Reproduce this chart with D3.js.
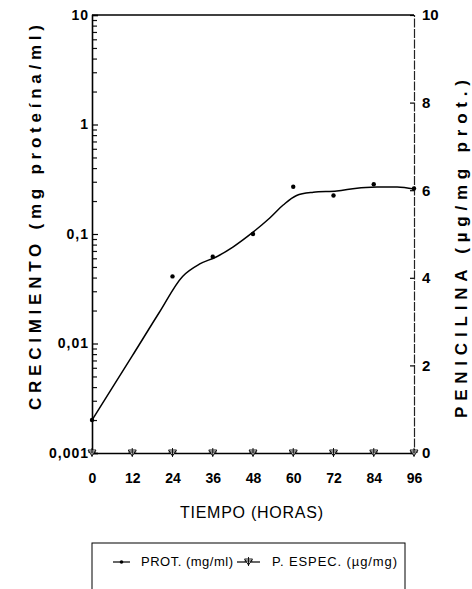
<!DOCTYPE html>
<html><head><meta charset="utf-8">
<script src="https://cdn.jsdelivr.net/npm/d3@7"></script>
<style>
body{margin:0;background:#fff;}
svg{display:block;font-family:"Liberation Sans",Arial,Helvetica,sans-serif;}
</style></head>
<body>
<svg id="chart" width="472" height="589"></svg>
<script>
// ---- data ----
const hours = [0,12,24,36,48,60,72,84,96];
const protHours = [0,24,36,48,60,72,84,96];
const protValues = [0.002,0.041,0.062,0.1,0.27,0.225,0.285,0.26];
const fitHours = [0,12,20,27,32,37,42,48,53,57,61,66,73,79,85,91,96];
const fitValues = [0.002,0.0077,0.0191,0.041,0.053,0.0617,0.076,0.104,0.14,0.184,0.225,0.241,0.247,0.262,0.268,0.268,0.258];
const penValues = [0,0,0,0,0,0,0,0,0];
const leftTicks = [0.001,0.01,0.1,1,10];
const leftTickLabels = ["0,001","0,01","0,1","1","10"];
const rightTicks = [0,2,4,6,8,10];
const xTicks = [0,12,24,36,48,60,72,84,96];

const svg = d3.select("#chart");
const x = d3.scaleLinear().domain([0,96]).range([92,414]);
const yL = d3.scaleLog().domain([0.001,10]).range([453,15]);
const yR = d3.scaleLinear().domain([0,10]).range([453,15]);

// minor log ticks
const minor = [];
[0.001,0.01,0.1,1].forEach(d=>{for(let k=2;k<=9;k++) minor.push(d*k);});

// left axis (minor)
svg.append("g").attr("transform","translate(92,0)")
  .call(d3.axisLeft(yL).tickValues(minor).tickSize(-5).tickFormat(""))
  .call(g=>g.select(".domain").remove())
  .call(g=>g.selectAll("line").attr("stroke","#111").attr("stroke-width",1.2));
// left axis (major)
svg.append("g").attr("transform","translate(92,0)")
  .call(d3.axisLeft(yL).tickValues(leftTicks).tickSize(-6).tickPadding(3)
    .tickFormat((d,i)=>leftTickLabels[i]))
  .call(g=>g.select(".domain").attr("stroke","#000").attr("stroke-width",1.6))
  .call(g=>g.selectAll("line").attr("stroke","#000").attr("stroke-width",1.2))
  .call(g=>g.selectAll("text").attr("font-size",14).attr("font-weight","bold")
     .attr("fill","#000").attr("letter-spacing","1px").attr("font-family","Liberation Sans, Arial, sans-serif"));

// right axis
svg.append("g").attr("transform","translate(414,0)")
  .call(d3.axisRight(yR).tickValues(rightTicks).tickSize(-4).tickPadding(8))
  .call(g=>g.select(".domain").attr("stroke","#222").attr("stroke-width",1.2).attr("stroke-dasharray","9,1.5"))
  .call(g=>g.selectAll("line").attr("stroke","#000").attr("stroke-width",1.2))
  .call(g=>g.selectAll("text").attr("font-size",15).attr("font-weight","bold")
     .attr("fill","#000").attr("font-family","Liberation Sans, Arial, sans-serif"));

// top frame
svg.append("line").attr("x1",x(0)).attr("x2",x(96)).attr("y1",yL(10)).attr("y2",yL(10))
  .attr("stroke","#000").attr("stroke-width",1.3);

// bottom axis
svg.append("g").attr("transform","translate(0,453)")
  .call(d3.axisBottom(x).tickValues(xTicks).tickSize(0).tickPadding(20))
  .call(g=>g.select(".domain").attr("stroke","#000").attr("stroke-width",1.6))
  .call(g=>g.selectAll("text").attr("font-size",14).attr("font-weight","bold")
     .attr("fill","#000").attr("font-family","Liberation Sans, Arial, sans-serif"));

// protein fitted curve
const line = d3.line().x((d,i)=>x(fitHours[i])).y(d=>yL(d)).curve(d3.curveCatmullRom.alpha(0.5));
svg.append("path").datum(fitValues).attr("d",line)
  .attr("fill","none").attr("stroke","#000").attr("stroke-width",1.5);

// protein points
svg.selectAll("circle.prot").data(protValues).join("circle").attr("class","prot")
  .attr("cx",(d,i)=>x(protHours[i])).attr("cy",d=>yL(d)).attr("r",2.2).attr("fill","#000");

// penicillin markers
function penMarker(g){
  g.append("path").attr("d","M-4,-3L4,-3L0,3Z").attr("fill","#fff").attr("stroke","#000").attr("stroke-width",0.9);
  g.append("line").attr("x1",-4).attr("x2",4).attr("y1",-1).attr("y2",-1).attr("stroke","#000").attr("stroke-width",0.9);
  g.append("line").attr("x1",0).attr("x2",0).attr("y1",-5).attr("y2",4).attr("stroke","#000").attr("stroke-width",0.9);
}
svg.selectAll("g.pen").data(penValues).join("g").attr("class","pen")
  .attr("transform",(d,i)=>`translate(${x(hours[i])},${yR(d)})`)
  .each(function(){penMarker(d3.select(this));});

// axis titles
svg.append("text").attr("transform","translate(41,0) rotate(-90)")
  .attr("x",-410).attr("y",0).attr("textLength",385).attr("lengthAdjust","spacing")
  .attr("font-size",17).attr("font-weight","bold").attr("fill","#000")
  .text("CRECIMIENTO (mg proteína/ml)");
svg.append("text").attr("transform","translate(467,0) rotate(-90)")
  .attr("x",-418).attr("y",0).attr("textLength",338).attr("lengthAdjust","spacing")
  .attr("font-size",17).attr("font-weight","bold").attr("fill","#000")
  .text("PENICILINA (µg/mg prot.)");
svg.append("text").attr("x",180).attr("y",518).attr("textLength",143).attr("lengthAdjust","spacing")
  .attr("font-size",16).attr("fill","#000").text("TIEMPO (HORAS)");

// legend
svg.append("rect").attr("x",92).attr("y",543).attr("width",313).attr("height",60)
  .attr("fill","none").attr("stroke","#000").attr("stroke-width",1);
svg.append("line").attr("x1",113).attr("x2",130).attr("y1",562).attr("y2",562).attr("stroke","#000").attr("stroke-width",1.2);
svg.append("circle").attr("cx",121.5).attr("cy",562).attr("r",1.8).attr("fill","#000");
svg.append("text").attr("x",141).attr("y",566).attr("textLength",92).attr("lengthAdjust","spacing")
  .attr("font-size",13).attr("fill","#000").text("PROT. (mg/ml)");
svg.append("line").attr("x1",237).attr("x2",260).attr("y1",562).attr("y2",562).attr("stroke","#000").attr("stroke-width",1.2);
const lg = svg.append("g").attr("transform","translate(248.5,562)");
penMarker(lg);
svg.append("text").attr("x",272).attr("y",566).attr("textLength",125).attr("lengthAdjust","spacing")
  .attr("font-size",13).attr("fill","#000").text("P. ESPEC. (µg/mg)");
</script>
</body></html>
